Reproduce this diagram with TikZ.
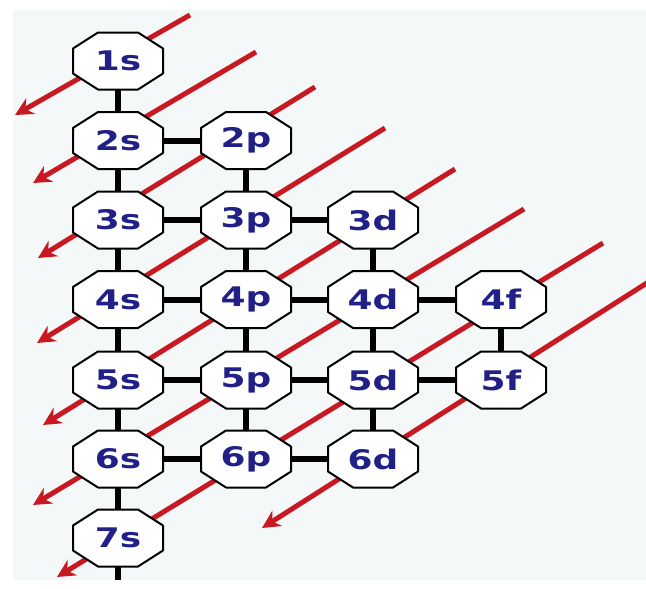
\documentclass[tikz,border=0pt]{standalone}
\usepackage{fontspec}
\newfontfamily\lbl{DejaVu Sans}[FakeStretch=1.33]
\usetikzlibrary{arrows.meta}
\definecolor{bgc}{RGB}{245,248,248}
\definecolor{navy}{RGB}{32,32,135}
\definecolor{arr}{RGB}{200,25,35}
\pgfdeclarelayer{bg}
\pgfdeclarelayer{oct}
\pgfsetlayers{bg,oct,main}
\tikzset{
  orb/.style={rectangle, minimum width=90pt, minimum height=57pt,
    inner sep=0pt, font=\lbl\bfseries\fontsize{27}{27}\selectfont, text=navy},
  octo/.style={draw=black, line width=2pt, fill=white, line join=round},
  link/.style={line width=6pt, black},
  diag/.style={line width=5pt, arr, -{Stealth[length=18pt,width=18pt,inset=6pt]}}
}
\begin{document}
\begin{tikzpicture}[x=1pt,y=-1pt]
\useasboundingbox (0,0) rectangle (646,589);
% orbitals
\node[orb] (s1) at (118,61) {1s};
\node[orb] (s2) at (118,140.5) {2s};
\node[orb] (p2) at (246,140.5) {2p};
\node[orb] (s3) at (118,220) {3s};
\node[orb] (p3) at (246,220) {3p};
\node[orb] (d3) at (373,220) {3d};
\node[orb] (s4) at (118,299.5) {4s};
\node[orb] (p4) at (246,299.5) {4p};
\node[orb] (d4) at (373,299.5) {4d};
\node[orb] (f4) at (501,299.5) {4f};
\node[orb] (s5) at (118,380) {5s};
\node[orb] (p5) at (246,380) {5p};
\node[orb] (d5) at (373,380) {5d};
\node[orb] (f5) at (501,380) {5f};
\node[orb] (s6) at (118,459) {6s};
\node[orb] (p6) at (246,459) {6p};
\node[orb] (d6) at (373,459) {6d};
\node[orb] (s7) at (118,538) {7s};
\coordinate (tail) at (118,580);
% octagon outlines behind the labels
\begin{pgfonlayer}{oct}
  \foreach \n in {s1,s2,p2,s3,p3,d3,s4,p4,d4,f4,s5,p5,d5,f5,s6,p6,d6,s7} {
    \draw[octo, shift={(\n.center)}] (-20,-28.5) -- (20,-28.5) -- (45,-12.5)
      -- (45,12.5) -- (20,28.5) -- (-20,28.5) -- (-45,12.5) -- (-45,-12.5) -- cycle;
  }
\end{pgfonlayer}
% arrow end points
\coordinate (a1) at (190,15);  \coordinate (b1) at (15,115);
\coordinate (a2) at (256,52);  \coordinate (b2) at (33,183);
\coordinate (a3) at (315,87);  \coordinate (b3) at (38,258);
\coordinate (a4) at (385,128); \coordinate (b4) at (37,343);
\coordinate (a5) at (455,169); \coordinate (b5) at (43,425);
\coordinate (a6) at (524,209); \coordinate (b6) at (33,505);
\coordinate (a7) at (603,243); \coordinate (b7) at (57,577);
\coordinate (a8) at (650,281); \coordinate (b8) at (262,528);
\begin{pgfonlayer}{bg}
  \fill[bgc] (13,10) rectangle (646,580);
  % grid connectors
  \draw[link] (s1) -- (s2); \draw[link] (s2) -- (s3); \draw[link] (s3) -- (s4);
  \draw[link] (s4) -- (s5); \draw[link] (s5) -- (s6); \draw[link] (s6) -- (s7);
  \draw[link] (s7.center) -- (tail);
  \draw[link] (p2) -- (p3); \draw[link] (p3) -- (p4); \draw[link] (p4) -- (p5);
  \draw[link] (p5) -- (p6);
  \draw[link] (d3) -- (d4); \draw[link] (d4) -- (d5); \draw[link] (d5) -- (d6);
  \draw[link] (f4) -- (f5);
  \draw[link] (s2) -- (p2);
  \draw[link] (s3) -- (p3); \draw[link] (p3) -- (d3);
  \draw[link] (s4) -- (p4); \draw[link] (p4) -- (d4); \draw[link] (d4) -- (f4);
  \draw[link] (s5) -- (p5); \draw[link] (p5) -- (d5); \draw[link] (d5) -- (f5);
  \draw[link] (s6) -- (p6); \draw[link] (p6) -- (d6);
  % diagonal arrows
  \begin{scope}
    \clip (13,10) rectangle (646,580);
    \foreach \i in {1,...,8} { \draw[diag] (a\i) -- (b\i); }
  \end{scope}
\end{pgfonlayer}
\end{tikzpicture}
\end{document}
